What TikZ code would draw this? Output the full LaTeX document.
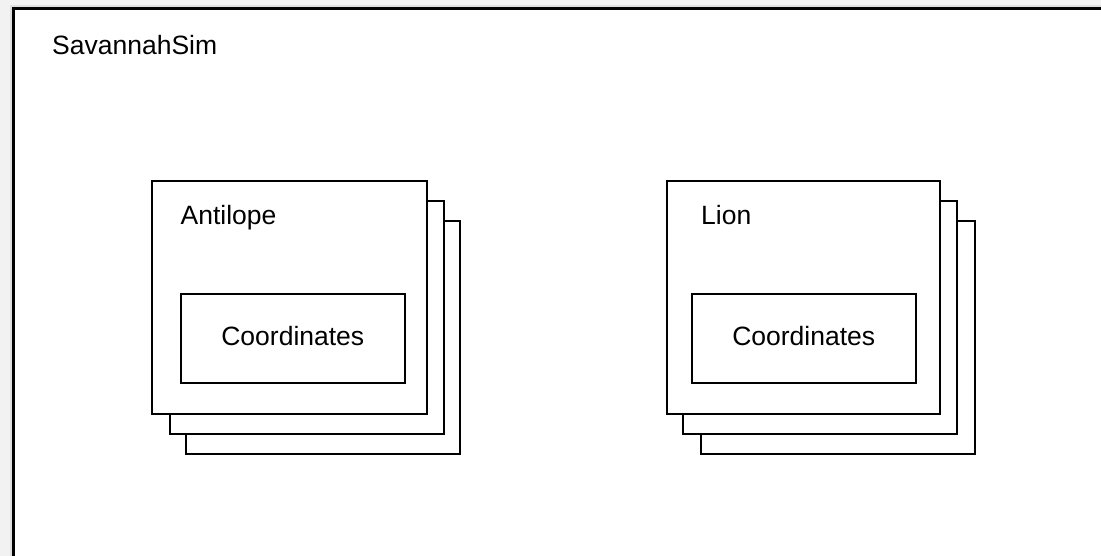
\documentclass[tikz,border=0pt]{standalone}
\usepackage{fontspec}
\setmainfont{Liberation Sans}
\begin{document}
\begin{tikzpicture}[x=1pt,y=-1pt,
  box/.style={draw=black, line width=1.8pt, fill=white},
  outerbox/.style={draw=black, line width=2.6pt, fill=white},
  lbl/.style={font=\fontsize{26.5}{30}\selectfont, inner sep=0pt, text=black}]
\useasboundingbox (0,0) rectangle (1101,556);
\clip (0,0) rectangle (1101,556);
\fill[gray!10] (0,0) rectangle (1101,556);
\fill[gray!25] (10,5) rectangle (1120,580);
% outer frame
\draw[outerbox] (13.5,8.5) rectangle (1130,590);
\node[lbl, anchor=base west] (sim) at (52,55) {SavannahSim};
% Antilope stack
\draw[box] (185.7,220.7) rectangle (460,454.3);
\draw[box] (170,200.7) rectangle (444,434.3);
\draw[box] (152,181) rectangle (426.7,414.3);
\node[lbl, anchor=base west] (ant) at (180.5,225) {Antilope};
\draw[box] (180.7,294) rectangle (405,383.3);
\node[lbl, anchor=base] (antc) at (292.8,345.5) {Coordinates};
% Lion stack
\draw[box] (701,220.7) rectangle (975,454.3);
\draw[box] (682.7,200.7) rectangle (957.3,434.3);
\draw[box] (667.3,181) rectangle (940,414.3);
\node[lbl, anchor=base west] (lion) at (701,225) {Lion};
\draw[box] (691.7,294) rectangle (915.7,383.3);
\node[lbl, anchor=base] (lionc) at (803.7,345.5) {Coordinates};
\end{tikzpicture}
\end{document}
